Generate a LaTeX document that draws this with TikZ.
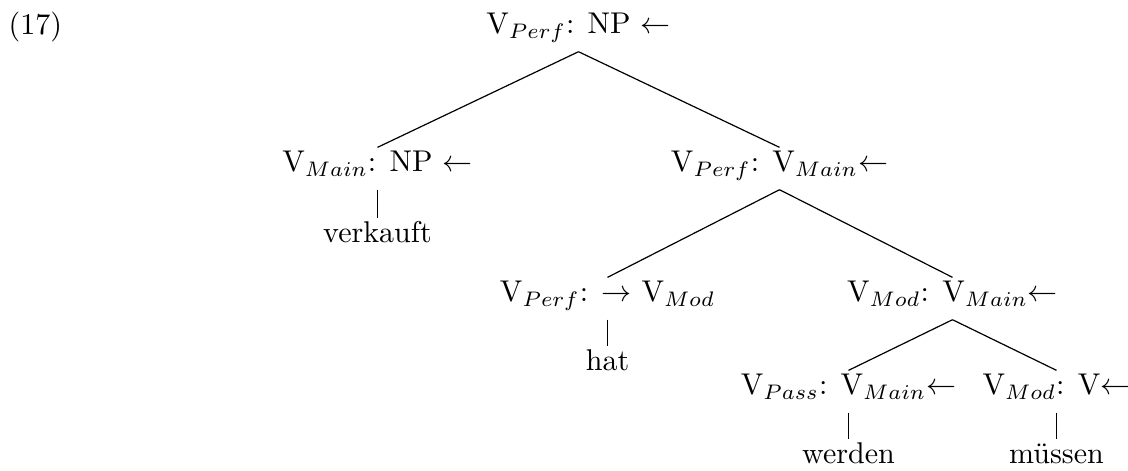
\documentclass[tikz,border=0pt]{standalone}
\begin{document}
\begin{tikzpicture}[x=0.333pt,y=-0.333pt,
  tnode/.style={anchor=base,text height=7pt,text depth=4.7pt,inner xsep=0pt,inner ysep=1pt},
  edge/.style={line width=0.4pt}]
\useasboundingbox (0,0) rectangle (1128,471);
\node[anchor=base west,inner sep=0pt] (ex) at (8,35) {(17)};
\node[tnode] (root) at (578.5,34) {V$_{Perf}$: NP $\leftarrow$};
\node[tnode] (la) at (377.5,172) {V$_{Main}$: NP $\leftarrow$};
\node[tnode] (lb) at (779.5,172) {V$_{Perf}$: V$_{Main}$$\leftarrow$};
\node[tnode] (verkauft) at (377.5,243) {verkauft};
\node[tnode] (ma) at (607.5,302) {V$_{Perf}$: $\rightarrow$ V$_{Mod}$};
\node[tnode] (mb) at (952.5,302) {V$_{Mod}$: V$_{Main}$$\leftarrow$};
\node[tnode] (hat) at (607.5,371) {hat};
\node[tnode] (na) at (848.5,395) {V$_{Pass}$: V$_{Main}$$\leftarrow$};
\node[tnode] (nb) at (1056.5,395) {V$_{Mod}$: V$\leftarrow$};
\node[tnode] (werden) at (848.5,464) {werden};
\node[tnode] (muessen) at (1056.5,464) {müssen};
\draw[edge] (root.south) -- (la.north);
\draw[edge] (root.south) -- (lb.north);
\draw[edge] (la.south) -- (verkauft.north);
\draw[edge] (lb.south) -- (ma.north);
\draw[edge] (lb.south) -- (mb.north);
\draw[edge] (ma.south) -- (hat.north);
\draw[edge] (mb.south) -- (na.north);
\draw[edge] (mb.south) -- (nb.north);
\draw[edge] (na.south) -- (werden.north);
\draw[edge] (nb.south) -- (muessen.north);
\end{tikzpicture}
\end{document}
